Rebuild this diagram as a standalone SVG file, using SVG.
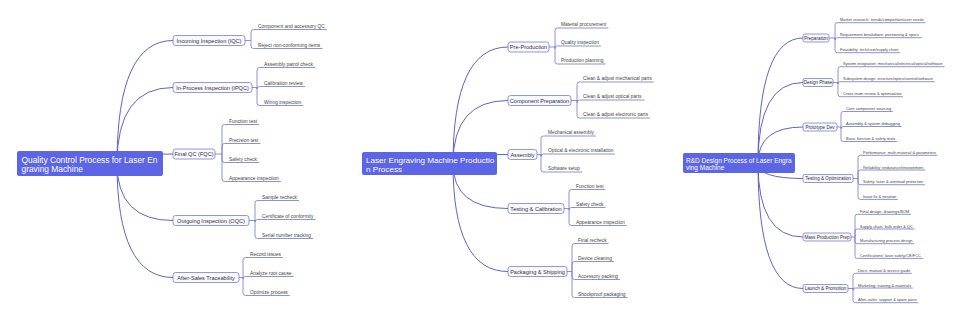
<svg xmlns="http://www.w3.org/2000/svg" width="960" height="327" viewBox="0 0 960 327">
<style>
.cv{fill:none;stroke:#5f63c4;stroke-width:1}
.lf{fill:none;stroke:#7276c6;stroke-width:0.8}
.bx{fill:#f8f8ff;stroke:#7a7fcc;stroke-width:0.8}
.rt{fill:#5c65e6}
text{font-family:"Liberation Sans",Arial,sans-serif}
.rtt{fill:#ffffff}
.r1{font-size:8.4px}
.r3{font-size:6.5px}
.bt{fill:#333333;font-size:5.6px;text-anchor:middle}
.bt3{fill:#333333;font-size:4.6px;text-anchor:middle}
.lt{fill:#444444;font-size:4.9px}
.lt2{fill:#444444;font-size:4.8px}
.lt3{fill:#444444;font-size:3.95px}
</style>
<rect width="960" height="327" fill="#ffffff"/>

<!-- ===== Panel 1 connectors ===== -->
<g id="connectors-qc">
<path class="cv" d="M117 163.5Q117 40.5 173 40.5"/>
<path class="cv" d="M117 163.5Q117 87.5 173 87.5"/>
<path class="cv" d="M117 163.5Q117 154 173 154"/>
<path class="cv" d="M117 163.5Q117 220.5 173 220.5"/>
<path class="cv" d="M117 163.5Q117 277.5 173 277.5"/>
<path class="lf" d="M245 40.5H251"/>
<path class="lf" d="M251 40.5V32Q251 29.5 253.5 29.5H327"/>
<path class="lf" d="M251 40.5V46Q251 48.5 253.5 48.5H322.4"/>
<path class="lf" d="M252 87.5H257"/>
<path class="lf" d="M257 87.5V70Q257 67.5 259.5 67.5H315"/>
<path class="lf" d="M257 87.5V89Q257 86.5 259.5 86.5H305"/>
<path class="lf" d="M257 87.5V103Q257 105.5 259.5 105.5H303.3"/>
<path class="lf" d="M215 154H222"/>
<path class="lf" d="M222 154V127Q222 124.5 224.5 124.5H259.1"/>
<path class="lf" d="M222 154V146Q222 143.5 224.5 143.5H260.4"/>
<path class="lf" d="M222 154V160Q222 162.5 224.5 162.5H259.1"/>
<path class="lf" d="M222 154V179Q222 181.5 224.5 181.5H280.8"/>
<path class="lf" d="M249 220.5H255"/>
<path class="lf" d="M255 220.5V203Q255 200.5 257.5 200.5H299.1"/>
<path class="lf" d="M255 220.5V222Q255 219.5 257.5 219.5H315.5"/>
<path class="lf" d="M255 220.5V236Q255 238.5 257.5 238.5H313"/>
<path class="lf" d="M239 277.5H243"/>
<path class="lf" d="M243 277.5V260Q243 257.5 245.5 257.5H283"/>
<path class="lf" d="M243 277.5V279Q243 276.5 245.5 276.5H293.7"/>
<path class="lf" d="M243 277.5V293Q243 295.5 245.5 295.5H289.8"/>
</g>

<g id="qc-root"><rect class="rt" x="17" y="151" width="146" height="25" rx="2"/>
<text class="rtt r1" x="21.5" y="162.5">Quality Control Process for Laser En</text>
<text class="rtt r1" x="21.5" y="172.3">graving Machine</text></g>

<g id="qc-iqc"><rect class="bx" x="173" y="35.5" width="72" height="10" rx="2.5"/><text class="bt" x="209" y="42.5">Incoming Inspection (IQC)</text></g>
<g id="qc-ipqc"><rect class="bx" x="173" y="82.5" width="79" height="10" rx="2.5"/><text class="bt" x="212.5" y="89.5">In-Process Inspection (IPQC)</text></g>
<g id="qc-fqc"><rect class="bx" x="173" y="149" width="42" height="10" rx="2.5"/><text class="bt" x="194" y="156">Final QC (FQC)</text></g>
<g id="qc-oqc"><rect class="bx" x="173" y="215.5" width="76" height="10" rx="2.5"/><text class="bt" x="211" y="222.5">Outgoing Inspection (OQC)</text></g>
<g id="qc-after"><rect class="bx" x="173" y="272.5" width="66" height="10" rx="2.5"/><text class="bt" x="206" y="279.5">After-Sales Traceability</text></g>

<g id="qc-iqc-1"><text class="lt" x="258" y="27.9">Component and accessory QC</text></g>
<g id="qc-iqc-2"><text class="lt" x="258" y="46.9">Reject non-conforming items</text></g>
<g id="qc-ipqc-1"><text class="lt" x="264" y="65.9">Assembly patrol check</text></g>
<g id="qc-ipqc-2"><text class="lt" x="264" y="84.9">Calibration review</text></g>
<g id="qc-ipqc-3"><text class="lt" x="264" y="103.9">Wiring inspection</text></g>
<g id="qc-fqc-1"><text class="lt" x="229" y="122.9">Function test</text></g>
<g id="qc-fqc-2"><text class="lt" x="229" y="141.9">Precision test</text></g>
<g id="qc-fqc-3"><text class="lt" x="229" y="160.9">Safety check</text></g>
<g id="qc-fqc-4"><text class="lt" x="229" y="179.9">Appearance inspection</text></g>
<g id="qc-oqc-1"><text class="lt" x="262" y="198.9">Sample recheck</text></g>
<g id="qc-oqc-2"><text class="lt" x="262" y="217.9">Certificate of conformity</text></g>
<g id="qc-oqc-3"><text class="lt" x="262" y="236.9">Serial number tracking</text></g>
<g id="qc-after-1"><text class="lt" x="250" y="255.9">Record issues</text></g>
<g id="qc-after-2"><text class="lt" x="250" y="274.9">Analyze root cause</text></g>
<g id="qc-after-3"><text class="lt" x="250" y="293.9">Optimize process</text></g>

<!-- ===== Panel 2 connectors ===== -->
<g id="connectors-prod">
<path class="cv" d="M453 163.5Q453 47 508 47"/>
<path class="cv" d="M453 163.5Q453 100.5 508 100.5"/>
<path class="cv" d="M453 163.5Q453 154.5 508 154.5"/>
<path class="cv" d="M453 163.5Q453 208.5 508 208.5"/>
<path class="cv" d="M453 163.5Q453 271.5 508 271.5"/>
<path class="lf" d="M549 47H555"/>
<path class="lf" d="M555 47V30.5Q555 28 557.5 28H608.3"/>
<path class="lf" d="M555 47V48.5Q555 46 557.5 46H600.9"/>
<path class="lf" d="M555 47V61.5Q555 64 557.5 64H605.4"/>
<path class="lf" d="M571 100.5H577"/>
<path class="lf" d="M577 100.5V84.5Q577 82 579.5 82H653.8"/>
<path class="lf" d="M577 100.5V102.5Q577 100 579.5 100H644.5"/>
<path class="lf" d="M577 100.5V115.5Q577 118 579.5 118H650.1"/>
<path class="lf" d="M537 154.5H541"/>
<path class="lf" d="M541 154.5V138.5Q541 136 543.5 136H595.9"/>
<path class="lf" d="M541 154.5V156.5Q541 154 543.5 154H614.9"/>
<path class="lf" d="M541 154.5V169.5Q541 172 543.5 172H582"/>
<path class="lf" d="M564 208.5H569"/>
<path class="lf" d="M569 208.5V192Q569 189.5 571.5 189.5H605.5"/>
<path class="lf" d="M569 208.5V210Q569 207.5 571.5 207.5H605.5"/>
<path class="lf" d="M569 208.5V223Q569 225.5 571.5 225.5H626.8"/>
<path class="lf" d="M567 271.5H572"/>
<path class="lf" d="M572 271.5V246Q572 243.5 574.5 243.5H608.5"/>
<path class="lf" d="M572 271.5V264Q572 261.5 574.5 261.5H613.9"/>
<path class="lf" d="M572 271.5V277Q572 279.5 574.5 279.5H620"/>
<path class="lf" d="M572 271.5V295Q572 297.5 574.5 297.5H627.5"/>
</g>

<g id="prod-root"><rect class="rt" x="362" y="152" width="135" height="23" rx="2"/>
<text class="rtt r1" x="366" y="162.5" style="font-size:8.1px">Laser Engraving Machine Productio</text>
<text class="rtt r1" x="366" y="171.8" style="font-size:8.1px">n Process</text></g>

<g id="prod-pre"><rect class="bx" x="508" y="42" width="41" height="10" rx="2.5"/><text class="bt" x="528.5" y="49">Pre-Production</text></g>
<g id="prod-comp"><rect class="bx" x="508" y="95.5" width="63" height="10" rx="2.5"/><text class="bt" x="539.5" y="102.5">Component Preparation</text></g>
<g id="prod-asm"><rect class="bx" x="508" y="149.5" width="29" height="10" rx="2.5"/><text class="bt" x="522.5" y="156.5">Assembly</text></g>
<g id="prod-test"><rect class="bx" x="508" y="203.5" width="56" height="10" rx="2.5"/><text class="bt" x="536" y="210.5">Testing &amp; Calibration</text></g>
<g id="prod-pack"><rect class="bx" x="508" y="266.5" width="59" height="10" rx="2.5"/><text class="bt" x="537.5" y="273.5">Packaging &amp; Shipping</text></g>

<g id="prod-pre-1"><text class="lt2" x="561" y="26.4">Material procurement</text></g>
<g id="prod-pre-2"><text class="lt2" x="561" y="44.4">Quality inspection</text></g>
<g id="prod-pre-3"><text class="lt2" x="561" y="62.4">Production planning</text></g>
<g id="prod-comp-1"><text class="lt2" x="583" y="80.4">Clean &amp; adjust mechanical parts</text></g>
<g id="prod-comp-2"><text class="lt2" x="583" y="98.4">Clean &amp; adjust optical parts</text></g>
<g id="prod-comp-3"><text class="lt2" x="583" y="116.4">Clean &amp; adjust electronic parts</text></g>
<g id="prod-asm-1"><text class="lt2" x="548" y="134.4">Mechanical assembly</text></g>
<g id="prod-asm-2"><text class="lt2" x="548" y="152.4">Optical &amp; electronic installation</text></g>
<g id="prod-asm-3"><text class="lt2" x="548" y="170.4">Software setup</text></g>
<g id="prod-test-1"><text class="lt2" x="576" y="187.9">Function test</text></g>
<g id="prod-test-2"><text class="lt2" x="576" y="205.9">Safety check</text></g>
<g id="prod-test-3"><text class="lt2" x="576" y="223.9">Appearance inspection</text></g>
<g id="prod-pack-1"><text class="lt2" x="578" y="241.9">Final recheck</text></g>
<g id="prod-pack-2"><text class="lt2" x="578" y="259.9">Device cleaning</text></g>
<g id="prod-pack-3"><text class="lt2" x="578" y="277.9">Accessory packing</text></g>
<g id="prod-pack-4"><text class="lt2" x="578" y="295.9">Shockproof packaging</text></g>

<!-- ===== Panel 3 connectors ===== -->
<g id="connectors-rd">
<path class="cv" d="M758 163Q758 38 803 38"/>
<path class="cv" d="M758 163Q758 82.5 803 82.5"/>
<path class="cv" d="M758 163Q758 127 803 127"/>
<path class="cv" d="M758 163Q758 178.5 803 178.5"/>
<path class="cv" d="M758 163Q758 237 803 237"/>
<path class="cv" d="M758 163Q758 288.5 803 288.5"/>
<path class="lf" d="M829 38H835"/>
<path class="lf" d="M835 38V24.9Q835 22.7 837.2 22.7H925.4"/>
<path class="lf" d="M835 38V39.9Q835 37.7 837.2 37.7H921.9"/>
<path class="lf" d="M835 38V50.5Q835 52.7 837.2 52.7H900.1"/>
<path class="lf" d="M833 82.5H838"/>
<path class="lf" d="M838 82.5V68.9Q838 66.7 840.2 66.7H944.6"/>
<path class="lf" d="M838 82.5V83.9Q838 81.7 840.2 81.7H934.7"/>
<path class="lf" d="M838 82.5V94.5Q838 96.7 840.2 96.7H902.9"/>
<path class="lf" d="M837 127H841"/>
<path class="lf" d="M841 127V113.7Q841 111.5 843.2 111.5H892.7"/>
<path class="lf" d="M841 127V128.7Q841 126.5 843.2 126.5H901.5"/>
<path class="lf" d="M841 127V139.3Q841 141.5 843.2 141.5H896.9"/>
<path class="lf" d="M853 178.5H858"/>
<path class="lf" d="M858 178.5V157.5Q858 155.3 860.2 155.3H937.4"/>
<path class="lf" d="M858 178.5V172.2Q858 170 860.2 170H925.5"/>
<path class="lf" d="M858 178.5V182.5Q858 184.7 860.2 184.7H924.9"/>
<path class="lf" d="M858 178.5V197.2Q858 199.4 860.2 199.4H897.9"/>
<path class="lf" d="M851 237H855"/>
<path class="lf" d="M855 237V216.5Q855 214.3 857.2 214.3H910.9"/>
<path class="lf" d="M855 237V231.2Q855 229 857.2 229H914.6"/>
<path class="lf" d="M855 237V241.5Q855 243.7 857.2 243.7H914.2"/>
<path class="lf" d="M855 237V256.2Q855 258.4 857.2 258.4H923.3"/>
<path class="lf" d="M848 288.5H853"/>
<path class="lf" d="M853 288.5V275.5Q853 273.3 855.2 273.3H911.7"/>
<path class="lf" d="M853 288.5V290.2Q853 288 855.2 288H912.8"/>
<path class="lf" d="M853 288.5V300.5Q853 302.7 855.2 302.7H918.3"/>
</g>

<g id="rd-root"><rect class="rt" x="683" y="153" width="112" height="20" rx="2"/>
<text class="rtt r3" x="686" y="162.5">R&amp;D Design Process of Laser Engra</text>
<text class="rtt r3" x="686" y="170.3">ving Machine</text></g>

<g id="rd-prep"><rect class="bx" x="803" y="34" width="26" height="8" rx="2"/><text class="bt3" x="816" y="39.7">Preparation</text></g>
<g id="rd-design"><rect class="bx" x="803" y="78.5" width="30" height="8" rx="2"/><text class="bt3" x="818" y="84.2">Design Phase</text></g>
<g id="rd-proto"><rect class="bx" x="803" y="123" width="34" height="8" rx="2"/><text class="bt3" x="820" y="128.7">Prototype Dev</text></g>
<g id="rd-test"><rect class="bx" x="803" y="174.5" width="50" height="8" rx="2"/><text class="bt3" x="828" y="180.2">Testing &amp; Optimization</text></g>
<g id="rd-mass"><rect class="bx" x="803" y="233" width="48" height="8" rx="2"/><text class="bt3" x="827" y="238.7">Mass Production Prep</text></g>
<g id="rd-launch"><rect class="bx" x="803" y="284.5" width="45" height="8" rx="2"/><text class="bt3" x="825.5" y="290.2">Launch &amp; Promotion</text></g>

<g id="rd-prep-1"><text class="lt3" x="840" y="21.4">Market research: trends/competitors/user needs</text></g>
<g id="rd-prep-2"><text class="lt3" x="840" y="36.4">Requirement breakdown: positioning &amp; specs</text></g>
<g id="rd-prep-3"><text class="lt3" x="840" y="51.4">Feasibility: tech/cost/supply chain</text></g>
<g id="rd-design-1"><text class="lt3" x="843" y="65.4">System integration: mechanical/electrical/optical/software</text></g>
<g id="rd-design-2"><text class="lt3" x="843" y="80.4">Subsystem design: structure/optics/control/software</text></g>
<g id="rd-design-3"><text class="lt3" x="843" y="95.4">Cross-team review &amp; optimization</text></g>
<g id="rd-proto-1"><text class="lt3" x="846" y="110.2">Core component sourcing</text></g>
<g id="rd-proto-2"><text class="lt3" x="846" y="125.2">Assembly &amp; system debugging</text></g>
<g id="rd-proto-3"><text class="lt3" x="846" y="140.2">Basic function &amp; safety tests</text></g>
<g id="rd-test-1"><text class="lt3" x="863" y="154">Performance: multi-material &amp; parameters</text></g>
<g id="rd-test-2"><text class="lt3" x="863" y="168.7">Reliability: endurance/environment</text></g>
<g id="rd-test-3"><text class="lt3" x="863" y="183.4">Safety: laser &amp; overload protection</text></g>
<g id="rd-test-4"><text class="lt3" x="863" y="198.1">Issue fix &amp; iteration</text></g>
<g id="rd-mass-1"><text class="lt3" x="860" y="213">Final design: drawings/BOM</text></g>
<g id="rd-mass-2"><text class="lt3" x="860" y="227.7">Supply chain: bulk order &amp; QC</text></g>
<g id="rd-mass-3"><text class="lt3" x="860" y="242.4">Manufacturing process design</text></g>
<g id="rd-mass-4"><text class="lt3" x="860" y="257.1">Certifications: laser safety/CE/FCC</text></g>
<g id="rd-launch-1"><text class="lt3" x="858" y="272">Docs: manual &amp; service guide</text></g>
<g id="rd-launch-2"><text class="lt3" x="858" y="286.7">Marketing: training &amp; materials</text></g>
<g id="rd-launch-3"><text class="lt3" x="858" y="301.4">After-sales: support &amp; spare parts</text></g>
</svg>
